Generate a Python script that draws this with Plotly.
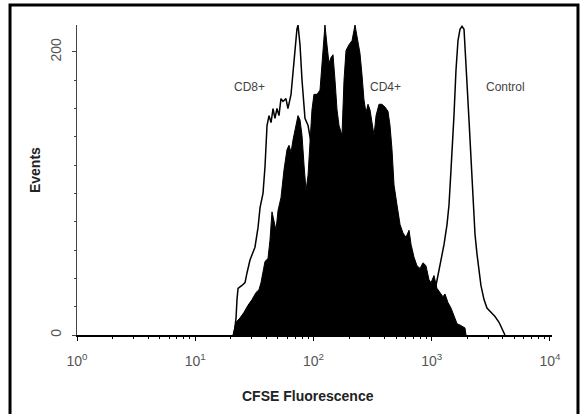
import plotly.graph_objects as go

# ---- data (x in log10 fluorescence units, y = events) ----
cd4_log = [1.319, 1.345, 1.378, 1.412, 1.446, 1.480, 1.514, 1.539, 1.556, 1.573,
           1.590, 1.615, 1.632, 1.649, 1.666, 1.683, 1.700, 1.725, 1.751, 1.776,
           1.793, 1.810, 1.827, 1.852, 1.869, 1.886, 1.903, 1.920, 1.937, 1.954,
           1.970, 1.987, 2.004, 2.030, 2.055, 2.072, 2.097, 2.114, 2.131, 2.148,
           2.165, 2.182, 2.199, 2.216, 2.241, 2.258, 2.275, 2.300, 2.326, 2.351,
           2.368, 2.393, 2.410, 2.427, 2.444, 2.461, 2.478, 2.495, 2.512, 2.529,
           2.554, 2.579, 2.605, 2.630, 2.647, 2.664, 2.681, 2.706, 2.732, 2.757,
           2.782, 2.808, 2.825, 2.850, 2.875, 2.901, 2.926, 2.951, 2.977, 2.994,
           3.019, 3.044, 3.070, 3.095, 3.112, 3.137, 3.163, 3.188, 3.214, 3.239,
           3.264, 3.281, 3.290]
cd4_events = [0, 9, 12, 16, 21, 25, 30, 32, 37, 46,
              52, 54, 67, 87, 80, 74, 88, 97, 117, 131,
              134, 129, 138, 148, 155, 152, 141, 120, 102, 113,
              138, 159, 170, 170, 173, 194, 219, 205, 192, 196,
              198, 180, 159, 148, 141, 180, 201, 205, 208, 219,
              210, 199, 184, 166, 157, 163, 159, 148, 141, 155,
              163, 163, 161, 158, 148, 131, 106, 92, 78, 72,
              69, 74, 64, 55, 49, 47, 51, 49, 39, 37,
              42, 33, 30, 27, 29, 23, 19, 13, 8, 7,
              6, 5, 0]

cd8_log = [1.328, 1.345, 1.353, 1.362, 1.395, 1.421, 1.438, 1.463, 1.505, 1.531,
           1.548, 1.573, 1.590, 1.598, 1.607, 1.624, 1.641, 1.658, 1.674, 1.691,
           1.708, 1.725, 1.742, 1.767, 1.784, 1.810, 1.827, 1.844, 1.860, 1.869,
           1.886, 1.903, 1.928, 1.954, 1.970, 2.004, 2.055, 2.140, 2.266, 2.435,
           2.647, 2.858, 2.943]
cd8_events = [0, 12, 25, 33, 35, 37, 44, 53, 62, 76,
              90, 100, 119, 131, 148, 155, 150, 160, 153, 160,
              155, 167, 165, 167, 160, 170, 187, 201, 216, 219,
              205, 180, 153, 148, 140, 124, 102, 85, 60, 35,
              14, 2, 0]

ctrl_log = [2.858, 2.917, 2.968, 3.002, 3.036, 3.070, 3.104, 3.129, 3.146, 3.163,
            3.180, 3.188, 3.205, 3.222, 3.239, 3.256, 3.273, 3.281, 3.298, 3.315,
            3.332, 3.349, 3.366, 3.383, 3.400, 3.416, 3.442, 3.467, 3.501, 3.535,
            3.569, 3.594, 3.619]
ctrl_events = [0, 5, 14, 28, 35, 49, 64, 78, 92, 117,
               141, 155, 187, 208, 216, 218, 216, 201, 178, 152,
               124, 92, 71, 57, 45, 35, 25, 19, 16, 13,
               9, 5, 0]

x_tick_vals = [1, 10, 100, 1000, 10000]
x_tick_text = ["10<sup>0</sup>", "10<sup>1</sup>", "10<sup>2</sup>",
               "10<sup>3</sup>", "10<sup>4</sup>"]
y_tick_vals = [0, 200]
y_tick_text = ["0", "200"]
series_labels = ["CD8+", "CD4+", "Control"]
label_log = [1.455, 2.613, 3.62]
label_y = 175

def to_lin(vals):
    return [10 ** v for v in vals]

FONT = "Liberation Sans, Arial, Helvetica, sans-serif"

fig = go.Figure()
fig.add_trace(go.Scatter(x=to_lin(cd8_log), y=cd8_events, mode="lines",
                         line=dict(color="black", width=1.5), name="CD8+",
                         hoverinfo="x+y"))
fig.add_trace(go.Scatter(x=to_lin(cd4_log), y=cd4_events, mode="lines",
                         fill="tozeroy", fillcolor="black",
                         line=dict(color="black", width=1), name="CD4+"))
fig.add_trace(go.Scatter(x=to_lin(ctrl_log), y=ctrl_events, mode="lines",
                         line=dict(color="black", width=1.5), name="Control"))

minor_x = []
for d in [1, 10, 100, 1000]:
    for k in range(2, 10):
        minor_x.append(k * d)

fig.update_xaxes(
    type="log", range=[0, 4.017],
    tickmode="array", tickvals=x_tick_vals, ticktext=x_tick_text,
    ticks="outside", ticklen=4, tickwidth=1, tickcolor="black",
    ticklabelstandoff=8,
    tickfont=dict(family=FONT, size=14, color="#555555"),
    minor=dict(tickmode="array", tickvals=minor_x, ticks="outside",
               ticklen=2, tickwidth=1, tickcolor="black", showgrid=False),
    showline=True, linecolor="black", linewidth=2,
    showgrid=False, zeroline=False,
)
fig.update_yaxes(
    range=[0, 219],
    tickmode="array", tickvals=y_tick_vals, ticktext=y_tick_text,
    tickangle=-90,
    ticks="outside", ticklen=4, tickwidth=1, tickcolor="#444444",
    ticklabelstandoff=5,
    tickfont=dict(family=FONT, size=14, color="#555555"),
    minor=dict(dtick=20, tick0=0, ticks="outside", ticklen=2, tickwidth=1,
               tickcolor="#444444", showgrid=False),
    showline=True, linecolor="#444444", linewidth=1,
    showgrid=False, zeroline=False,
)

annotations = []
for t, lx in zip(series_labels, label_log):
    annotations.append(dict(x=lx, y=label_y, xref="x", yref="y", text=t,
                            showarrow=False, xanchor="center", yanchor="middle",
                            font=dict(family=FONT, size=12, color="#444444")))
annotations.append(dict(x=0.486, y=-0.197, xref="paper", yref="paper",
                        text="<b>CFSE Fluorescence</b>", showarrow=False,
                        xanchor="center", yanchor="middle",
                        font=dict(family=FONT, size=14, color="#222222")))
annotations.append(dict(x=-0.0885, y=0.532, xref="paper", yref="paper",
                        text="<b>Events</b>", showarrow=False, textangle=-90,
                        xanchor="center", yanchor="middle",
                        font=dict(family=FONT, size=14, color="#222222")))

fig.update_layout(
    width=582, height=414,
    margin=dict(l=77, r=30, t=25, b=79),
    paper_bgcolor="white", plot_bgcolor="white",
    showlegend=False,
    annotations=annotations,
    shapes=[dict(type="rect", xref="paper", yref="paper",
                 x0=-0.141, x1=1.0547, y0=-0.30, y1=1.0645,
                 line=dict(color="black", width=3), fillcolor="rgba(0,0,0,0)",
                 layer="below")],
)

fig.write_html("out.html")
